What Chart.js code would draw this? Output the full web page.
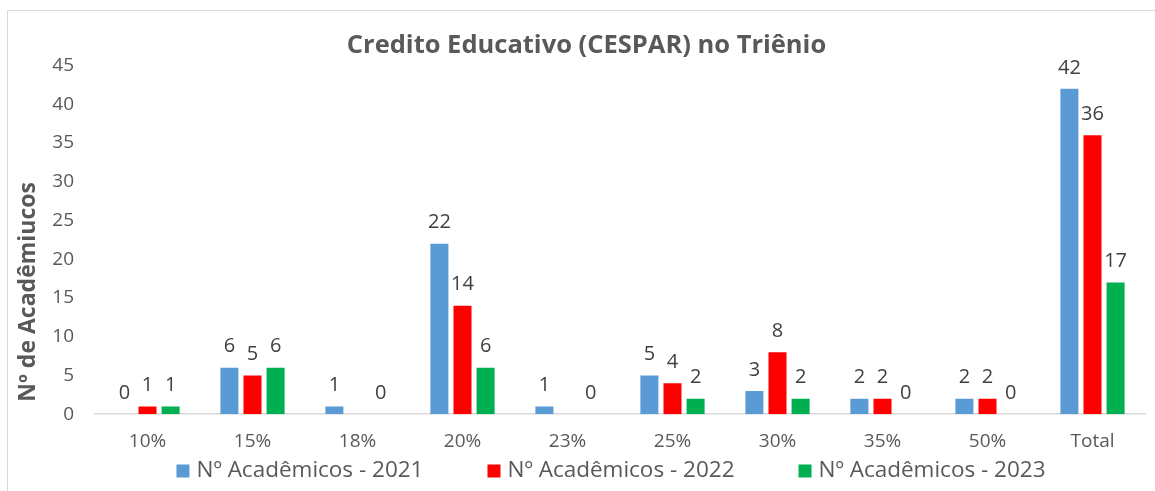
<!DOCTYPE html>
<html>
<head>
<meta charset="utf-8">
<script src="https://cdn.jsdelivr.net/npm/chart.js@4/dist/chart.umd.min.js"></script>
<style>
  html, body { margin: 0; padding: 0; background: #fff; }
  #wrap { position: relative; width: 1155px; height: 491px; }
  #frame { position: absolute; left: 7px; top: 10px; width: 1160px; height: 490px; border: 1px solid #d9d9d9; box-sizing: border-box; }
  canvas { position: absolute; left: 0; top: 0; }
</style>
</head>
<body>
<div id="wrap">
  <div id="frame"></div>
  <canvas id="chart" width="1155" height="491"></canvas>
</div>
<script>
// faixas de desconto
const categories = ['10%', '15%', '18%', '20%', '23%', '25%', '30%', '35%', '50%', 'Total'];
const seriesNames = ['Nº Acadêmicos - 2021', 'Nº Acadêmicos - 2022', 'Nº Acadêmicos - 2023'];
const values2021 = [0, 6, 1, 22, 1, 5, 3, 2, 2, 42];
const values2022 = [1, 5, null, 14, null, 4, 8, 2, 2, 36];
const values2023 = [1, 6, 0, 6, 0, 2, 2, 0, 0, 17];
const yTicks = [0, 5, 10, 15, 20, 25, 30, 35, 40, 45];
const colors = ['#5b9bd5', '#ff0000', '#00b050'];
const yTitle = 'Nº de Acadêmiucos';

const FONT = '"Open Sans", Lato, sans-serif';
const GREY = '#595959';

// rotulos de dados em cima das barras
const valueLabels = {
  id: 'valueLabels',
  afterDatasetsDraw(chart) {
    const ctx = chart.ctx;
    ctx.save();
    ctx.font = '20px ' + FONT;
    ctx.fillStyle = '#404040';
    ctx.textAlign = 'center';
    ctx.textBaseline = 'bottom';
    chart.data.datasets.forEach((ds, i) => {
      const meta = chart.getDatasetMeta(i);
      meta.data.forEach((bar, j) => {
        const v = ds.data[j];
        if (v === null || v === undefined) return;
        ctx.fillText(String(v), bar.x, bar.y - 11);
      });
    });
    ctx.restore();
  }
};

// titulo do eixo y, um pouco abaixo do centro como no Excel
const yAxisTitle = {
  id: 'yAxisTitle',
  afterDraw(chart) {
    const ctx = chart.ctx;
    const area = chart.chartArea;
    ctx.save();
    ctx.translate(28, (area.top + area.bottom) / 2 + 52);
    ctx.rotate(-Math.PI / 2);
    ctx.font = 'bold 23px ' + FONT;
    ctx.fillStyle = GREY;
    ctx.textAlign = 'center';
    ctx.textBaseline = 'middle';
    ctx.fillText(yTitle, 0, 0);
    ctx.restore();
  }
};

// legenda desenhada a mao (espacamento do Excel)
const bottomLegend = {
  id: 'bottomLegend',
  afterDraw(chart) {
    const ctx = chart.ctx;
    const area = chart.chartArea;
    ctx.save();
    ctx.font = '22.5px ' + FONT;
    ctx.textBaseline = 'middle';
    ctx.textAlign = 'left';
    const box = 13, gapBox = 7, gapItem = 64;
    const widths = seriesNames.map(t => box + gapBox + ctx.measureText(t).width);
    const total = widths.reduce((a, b) => a + b, 0) + gapItem * (widths.length - 1);
    let x = (area.left + area.right) / 2 - 9 - total / 2;
    const y = 471;
    seriesNames.forEach((t, i) => {
      ctx.fillStyle = colors[i];
      ctx.fillRect(x, y - box / 2, box, box);
      ctx.fillStyle = GREY;
      ctx.fillText(t, x + box + gapBox, y);
      x += widths[i] + gapItem;
    });
    ctx.restore();
  }
};

new Chart(document.getElementById('chart'), {
  type: 'bar',
  data: {
    labels: categories,
    datasets: [
      { label: seriesNames[0], data: values2021, backgroundColor: colors[0] },
      { label: seriesNames[1], data: values2022, backgroundColor: colors[1] },
      { label: seriesNames[2], data: values2023, backgroundColor: colors[2] }
    ]
  },
  options: {
    responsive: false,
    animation: false,
    layout: { padding: { top: 12, right: 10, bottom: 22, left: 28 } },
    datasets: {
      bar: { categoryPercentage: 0.66, barPercentage: 0.78 }
    },
    plugins: {
      legend: { display: false },
      tooltip: { enabled: false },
      title: {
        display: true,
        text: 'Credito Educativo (CESPAR) no Triênio',
        color: GREY,
        font: { family: FONT, size: 25.5, weight: 'bold' },
        padding: { top: 18, bottom: 5 }
      }
    },
    scales: {
      x: {
        grid: { display: false, drawTicks: false },
        border: { color: '#d9d9d9', width: 1.5 },
        ticks: { color: GREY, font: { family: FONT, size: 19 }, padding: 16 }
      },
      y: {
        min: 0,
        max: 45,
        afterBuildTicks(scale) { scale.ticks = yTicks.map(v => ({ value: v })); },
        afterFit(scale) { scale.width = 67; },
        grid: { display: false, drawTicks: false },
        border: { display: false },
        ticks: { color: GREY, font: { family: FONT, size: 19 }, padding: 21 }
      }
    }
  },
  plugins: [valueLabels, yAxisTitle, bottomLegend]
});
</script>
</body>
</html>
